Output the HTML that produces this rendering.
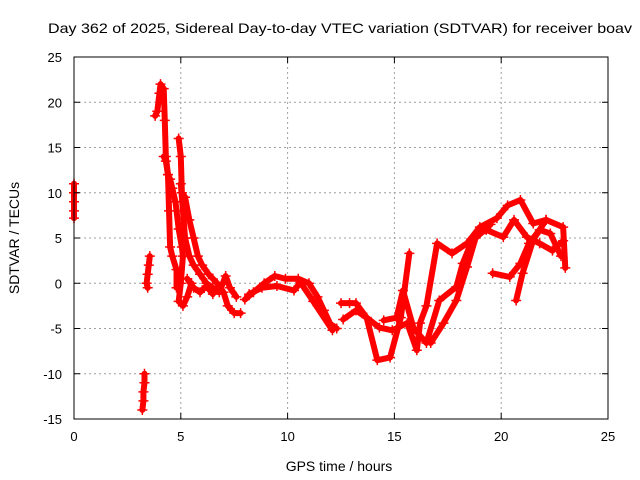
<!DOCTYPE html>
<html><head><meta charset="utf-8"><style>
body{margin:0;background:#fff;}
svg{display:block;font-family:"Liberation Sans",sans-serif;}
</style></head><body>
<svg id="chart" width="640" height="480">
<text x="48" y="33" font-size="14" textLength="584" lengthAdjust="spacingAndGlyphs" fill="#000">Day 362 of 2025, Sidereal Day-to-day VTEC variation (SDTVAR) for receiver boav</text>
<text x="339" y="471" font-size="14" text-anchor="middle">GPS time / hours</text>
<text transform="translate(19,238) rotate(-90)" font-size="14" text-anchor="middle">SDTVAR / TECUs</text>
<g id="grid"></g><g id="data"></g><g id="axes"></g>
</svg>
<script>
const xTicks=[0,5,10,15,20,25];
const yTicks=[25,20,15,10,5,0,-5,-10,-15];
const trackA=[[0,11],[0,10],[0,9],[0,8],[0,7.2]];
const trackB=[[3.3,-10],[3.3,-11],[3.25,-12],[3.25,-13],[3.2,-14]];
const trackC=[[3.55,3],[3.5,2],[3.45,1],[3.4,0],[3.45,-0.5]];
const trackD=[[3.8,18.5],[3.9,19],[4.0,21],[4.05,22],[4.2,21.5],[4.25,18],[4.3,14],[4.4,12],[4.5,11.5],[4.6,10.5],[4.75,9],[4.9,6],[5.05,4],[5.1,3],[5.0,0],[4.9,-2],[5.1,-2.5],[5.3,-1.5],[5.5,0]];
const trackE=[[4.2,14],[4.3,13.5],[4.4,12],[4.45,8],[4.5,4],[4.6,3],[4.8,1.5],[4.8,-0.5]];
const trackF=[[4.9,16],[5.0,14],[5.05,10],[5.2,9.5],[5.4,7],[5.6,5],[5.8,3],[6.0,2],[6.3,1],[6.7,0],[7.0,-1],[7.2,-2.5],[7.5,-3.3],[7.8,-3.3]];
const trackG=[[5.0,11],[5.1,8],[5.2,5],[5.4,3],[5.6,2],[5.9,1],[6.2,0],[6.5,-0.5],[6.8,-1],[7.1,0.8],[7.3,-0.5],[7.6,-1.5]];
const trackH=[[5.3,0.5],[5.6,-0.5],[5.9,-1],[6.2,-0.3],[6.5,-1.2]];
const trackI=[[8.0,-1.8],[8.4,-1],[8.9,0],[9.4,0.8],[9.9,0.5],[10.5,0.5],[11,0],[11.4,-1.5],[11.7,-3],[12,-4.5],[12.3,-5]];
const trackJ=[[8.2,-1.2],[8.8,-0.5],[9.5,-0.3],[10.3,-0.8],[10.6,0.1],[11.2,-2],[12.1,-5.2]];
const trackK=[[12.5,-2.2],[12.9,-2.2],[13.2,-2.2],[13.7,-3.8],[14.2,-8.5],[14.8,-8.2],[15.3,-3.8],[15.7,3.3]];
const trackL=[[12.6,-4],[13.2,-3],[13.7,-3.8],[14.3,-4.9],[14.9,-5.2],[15.6,-4.4],[16.05,-7.4],[16.2,-4.4],[16.5,-2.5],[17.0,4.4],[17.7,3.3],[18.4,4.4],[19.0,6.2],[19.8,7.2],[20.3,8.6],[20.9,9.2],[21.5,6.6],[22.1,7.0],[22.9,6.2],[23.0,1.7]];
const trackM=[[14.5,-4.1],[15.1,-3.8],[15.4,-0.8],[15.9,-5],[16.5,-6.6],[17.1,-1.9],[17.9,-0.4],[18.2,2.2],[18.7,5.1],[19.3,5.9],[20.1,5.1],[20.6,7],[21.2,5.1],[21.8,4.4],[22.4,3.6],[22.9,4.7]];
const trackN=[[16.7,-6.6],[17.3,-4.4],[17.9,-1.9],[18.4,1.8],[18.8,5],[19.5,6.5]];
const trackO=[[19.6,1.1],[20.4,0.7],[20.9,2.2],[21.3,4.4],[21.8,5.9],[22.3,5.5],[22.8,3]];
const trackP=[[20.7,-1.9],[21.0,1.1],[21.5,4.8],[22.1,7.0]];
const tracks=[trackA,trackB,trackC,trackD,trackE,trackF,trackG,trackH,trackI,trackJ,trackK,trackL,trackM,trackN,trackO,trackP];
const X0=74,X1=608,Y0=419,Y1=57;
const xs=v=>X0+(v-0)/25*(X1-X0);
const ys=v=>Y0-(v+15)/40*(Y0-Y1);
const NS="http://www.w3.org/2000/svg";
function mk(t,a,p){const e=document.createElementNS(NS,t);for(const k in a)e.setAttribute(k,a[k]);p.appendChild(e);return e;}
const grid=document.getElementById('grid'),axes=document.getElementById('axes'),data=document.getElementById('data');
xTicks.forEach(t=>{
 const x=xs(t);
 if(t>0&&t<25){const l=mk('line',{x1:x,x2:x,y1:Y1,y2:Y0,stroke:'#a0a0a0','stroke-dasharray':'2,3'},grid);
 
 }
 mk('line',{x1:x,x2:x,y1:Y0,y2:Y0-6,stroke:'#000'},axes);
 mk('line',{x1:x,x2:x,y1:Y1,y2:Y1+6,stroke:'#000'},axes);
 const tx=mk('text',{x:x,y:Y0+22,'font-size':13,'text-anchor':'middle'},axes);tx.textContent=t;
 
 
});
yTicks.forEach(t=>{
 const y=ys(t);
 if(t>-15&&t<25){const l=mk('line',{x1:X0,x2:X1,y1:y,y2:y,stroke:'#a0a0a0','stroke-dasharray':'2,3'},grid);
 
 }
 mk('line',{x1:X0,x2:X0+6,y1:y,y2:y,stroke:'#000'},axes);
 mk('line',{x1:X1,x2:X1-6,y1:y,y2:y,stroke:'#000'},axes);
 const tx=mk('text',{x:X0-12,y:y+5,'font-size':13,'text-anchor':'end'},axes);tx.textContent=t;
 
 
});
const fr=mk('rect',{x:X0,y:Y1,width:X1-X0,height:Y0-Y1,fill:'none',stroke:'#000'},axes);


tracks.forEach(tr=>{
 const g=mk('g',{},data);
 
 
 if(tr.length>1){mk('polyline',{points:tr.map(p=>xs(p[0])+','+ys(p[1])).join(' '),fill:'none',stroke:'#f00','stroke-width':6,'stroke-linejoin':'round','stroke-linecap':'round'},g);}
 tr.forEach(p=>{const x=xs(p[0]),y=ys(p[1]);
  mk('path',{d:`M${x-5},${y}H${x+5}M${x},${y-5}V${y+5}`,stroke:'#f00','stroke-width':1.5},g);});
});
</script>
</body></html>
